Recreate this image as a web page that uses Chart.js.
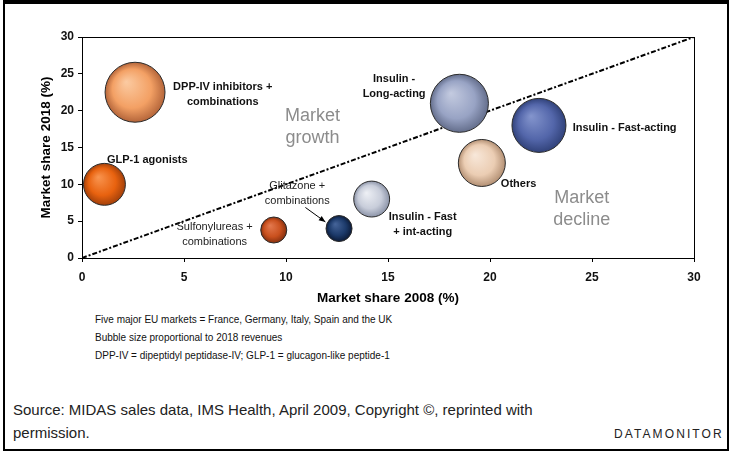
<!DOCTYPE html>
<html>
<head>
<meta charset="utf-8">
<script src="https://cdn.jsdelivr.net/npm/chart.js@4.4.1/dist/chart.umd.min.js"></script>
<style>
    body { margin: 0; background: #fff; font-family: "Liberation Sans", Arial, sans-serif; }
    #page { position: relative; width: 734px; height: 456px; overflow: hidden; }
    #frame { position: absolute; left: 3px; top: 0; width: 726px; height: 451px; box-sizing: border-box;
        border-left: 2px solid #000; border-right: 2px solid #000; border-top: 4px solid #000; border-bottom: 2px solid #000; }
    #wrap { position: absolute; left: 0; top: 0; width: 734px; height: 310px; }
    .note { position: absolute; left: 95px; font-size: 10px; color: #111; white-space: nowrap; }
    .src { position: absolute; left: 13px; font-size: 15px; color: #222; white-space: nowrap; }
    #brand { position: absolute; left: 614px; top: 427px; font-size: 12px; letter-spacing: 2.1px; color: #222; }
</style>
</head>
<body>
<div id="page">
    <div id="frame"></div>
    <div id="wrap"><canvas id="bubbleChart"></canvas></div>
    <div class="note" style="top:314px">Five major EU markets = France, Germany, Italy, Spain and the UK</div>
    <div class="note" style="top:332px">Bubble size proportional to 2018 revenues</div>
    <div class="note" style="top:350px">DPP-IV = dipeptidyl peptidase-IV; GLP-1 = glucagon-like peptide-1</div>
    <div class="src" style="top:401px">Source: MIDAS sales data, IMS Health, April 2009, Copyright ©, reprinted with</div>
    <div class="src" style="top:424px">permission.</div>
    <div id="brand">DATAMONITOR</div>
</div>
<script>
// donnees
const categories = ["DPP-IV inhibitors + combinations", "GLP-1 agonists", "Sulfonylureas + combinations",
    "Glitazone + combinations", "Insulin - Fast + int-acting", "Insulin - Long-acting",
    "Insulin - Fast-acting", "Others"];
const share2008 = [2.6, 1.1, 9.4, 12.6, 14.2, 18.5, 22.4, 19.6];
const share2018 = [22.5, 10.0, 3.8, 4.0, 8.0, 21.0, 18.0, 12.9];
const revenue2018 = [22.3, 10.9, 4.2, 4.2, 8.0, 20.9, 18.1, 13.7];
const parityLine = [0, 30];

// couleurs [clair, base, fonce]
const palette = [
    ["#fbcba2", "#f3a064", "#b4653a"],
    ["#f99550", "#e8620f", "#a3400a"],
    ["#e47a50", "#c9501e", "#86300f"],
    ["#46659a", "#1c3a6a", "#0c1b38"],
    ["#eef0f5", "#c8cdda", "#8c94a8"],
    ["#c4cbe0", "#98a3c4", "#646e8c"],
    ["#8495cd", "#5366aa", "#31427a"],
    ["#f8e8da", "#ebcdb3", "#b39074"],
];

const bubbleScale = 6.35;

const labels = [
    { lines: ["DPP-IV inhibitors +", "combinations"], x: 6.9, y: 22.2, bold: true },
    { lines: ["GLP-1 agonists"], x: 3.2, y: 13.3, bold: true },
    { lines: ["Sulfonylureas +", "combinations"], x: 6.5, y: 3.2, bold: false },
    { lines: ["Glitazone +", "combinations"], x: 10.55, y: 8.8, bold: false },
    { lines: ["Insulin -", "Long-acting"], x: 15.3, y: 23.3, bold: true },
    { lines: ["Insulin - Fast-acting"], x: 26.6, y: 17.6, bold: true },
    { lines: ["Others"], x: 21.4, y: 10.0, bold: true },
    { lines: ["Insulin - Fast", "+ int-acting"], x: 16.7, y: 4.6, bold: true },
];
const zones = [
    { lines: ["Market", "growth"], x: 11.3, y: 17.8 },
    { lines: ["Market", "decline"], x: 24.5, y: 6.6 },
];

function couleurBulle(context) {
    const chart = context.chart;
    const c = palette[context.dataIndex];
    if (!chart.chartArea || !context.raw) {
        return c[1];
    }
    const cx = chart.scales.x.getPixelForValue(context.raw.x);
    const cy = chart.scales.y.getPixelForValue(context.raw.y);
    const r = context.raw.r;
    const g = chart.ctx.createRadialGradient(cx - r * 0.3, cy - r * 0.35, 0, cx, cy, r);
    g.addColorStop(0, c[0]);
    g.addColorStop(0.65, c[1]);
    g.addColorStop(1, c[2]);
    return g;
}

const annotations = {
    id: "annotations",
    beforeDatasetsDraw(chart) {
        const { ctx, chartArea } = chart;
        ctx.save();
        ctx.strokeStyle = "#000";
        ctx.lineWidth = 1;
        ctx.strokeRect(chartArea.left + 0.5, chartArea.top + 0.5, chartArea.right - chartArea.left, chartArea.bottom - chartArea.top);
        ctx.restore();
    },
    afterDatasetsDraw(chart) {
        const { ctx } = chart;
        const sx = chart.scales.x, sy = chart.scales.y;
        ctx.save();
        ctx.textAlign = "center";
        ctx.textBaseline = "middle";
        labels.forEach(function (l) {
            ctx.font = (l.bold ? "bold " : "") + "11px 'Liberation Sans', Arial";
            ctx.fillStyle = l.bold ? "#111" : "#222";
            const px = sx.getPixelForValue(l.x);
            const py = sy.getPixelForValue(l.y);
            const top = py - (l.lines.length - 1) * 7.5;
            l.lines.forEach(function (t, i) {
                ctx.fillText(t, px, top + i * 15);
            });
        });
        ctx.font = "18px 'Liberation Sans', Arial";
        ctx.fillStyle = "#8c8c8c";
        zones.forEach(function (z) {
            const px = sx.getPixelForValue(z.x);
            const py = sy.getPixelForValue(z.y);
            ctx.fillText(z.lines[0], px, py - 11);
            ctx.fillText(z.lines[1], px, py + 11);
        });
        // fleche glitazone
        const x1 = sx.getPixelForValue(10.95), y1 = sy.getPixelForValue(6.86);
        const x2 = sx.getPixelForValue(11.93), y2 = sy.getPixelForValue(4.9);
        const a = Math.atan2(y2 - y1, x2 - x1);
        ctx.strokeStyle = "#000";
        ctx.fillStyle = "#000";
        ctx.lineWidth = 1;
        ctx.beginPath();
        ctx.moveTo(x1, y1);
        ctx.lineTo(x2, y2);
        ctx.stroke();
        ctx.beginPath();
        ctx.moveTo(x2, y2);
        ctx.lineTo(x2 - 7 * Math.cos(a - 0.4), y2 - 7 * Math.sin(a - 0.4));
        ctx.lineTo(x2 - 7 * Math.cos(a + 0.4), y2 - 7 * Math.sin(a + 0.4));
        ctx.closePath();
        ctx.fill();
        ctx.restore();
    },
};

const bubbleData = categories.map(function (c, i) {
    return { x: share2008[i], y: share2018[i], r: bubbleScale * Math.sqrt(revenue2018[i]) };
});

const ctx = document.getElementById("bubbleChart");
let chartBulles = new Chart(ctx, {
    type: "bubble",
    data: {
        datasets: [
            {
                label: "Market share",
                data: bubbleData,
                backgroundColor: couleurBulle,
                borderColor: "#2b2b2b",
                borderWidth: 1,
                clip: false,
                order: 1,
            },
            {
                type: "line",
                label: "Parity",
                data: parityLine.map(function (v) { return { x: v, y: v }; }),
                borderColor: "#000",
                borderWidth: 2,
                borderDash: [5, 2, 2, 2],
                pointRadius: 0,
                fill: false,
                order: 2,
            },
        ],
    },
    plugins: [annotations],
    options: {
        responsive: true,
        maintainAspectRatio: false,
        animation: false,
        events: [],
        layout: { padding: { left: 34, right: 40, top: 37, bottom: 0 } },
        plugins: {
            legend: { display: false },
            tooltip: { enabled: false },
        },
        scales: {
            x: {
                type: "linear",
                min: 0,
                max: 30,
                afterFit: function (s) { s.height = 52; },
                ticks: { stepSize: 5, padding: 8, color: "#111", font: { family: "'Liberation Sans', Arial", size: 12, weight: "bold" } },
                grid: { drawOnChartArea: false, tickLength: 4, color: "#000" },
                border: { color: "#000" },
                title: { display: true, text: "Market share 2008 (%)", color: "#000", font: { family: "'Liberation Sans', Arial", size: 13.5, weight: "bold" } },
            },
            y: {
                type: "linear",
                min: 0,
                max: 30,
                afterFit: function (s) { s.width = 48; },
                ticks: { stepSize: 5, padding: 4, color: "#111", font: { family: "'Liberation Sans', Arial", size: 12, weight: "bold" } },
                grid: { drawOnChartArea: false, tickLength: 4, color: "#000" },
                border: { color: "#000" },
                title: { display: true, text: "Market share 2018 (%)", color: "#000", font: { family: "'Liberation Sans', Arial", size: 13.5, weight: "bold" } },
            },
        },
    },
});
</script>
</body>
</html>
